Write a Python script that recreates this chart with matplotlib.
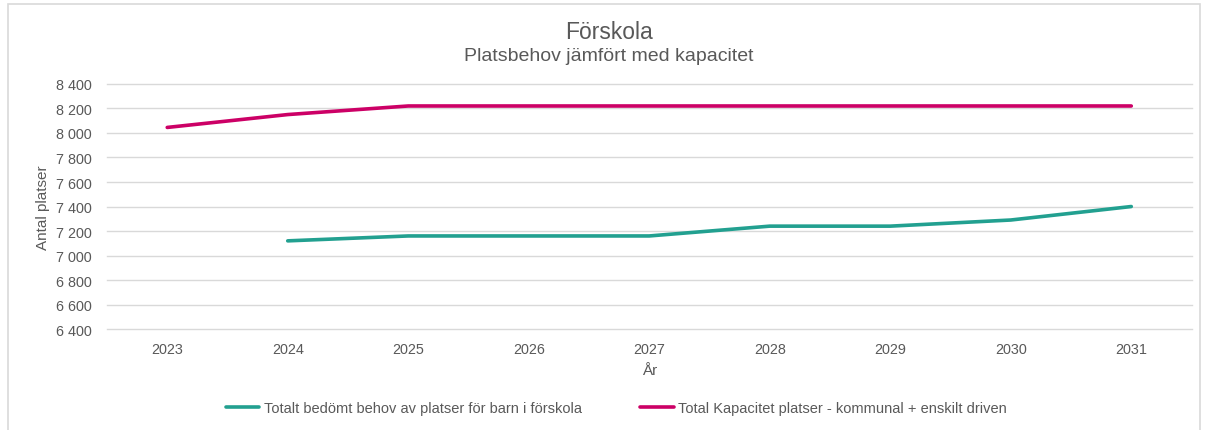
import matplotlib.pyplot as plt
from matplotlib.patches import Rectangle
from matplotlib.ticker import FuncFormatter

plt.rcParams['font.family'] = ['Liberation Sans', 'DejaVu Sans']

# Data
years = [2023, 2024, 2025, 2026, 2027, 2028, 2029, 2030, 2031]
behov_years = [2024, 2025, 2026, 2027, 2028, 2029, 2030, 2031]
behov = [7120, 7160, 7160, 7160, 7240, 7240, 7290, 7400]
kapacitet = [8045, 8150, 8220, 8220, 8220, 8220, 8220, 8220, 8220]

lbl_behov = 'Totalt bedömt behov av platser för barn i förskola'
lbl_kap = 'Total Kapacitet platser - kommunal + enskilt driven'

gra = '#595959'
cor_behov = '#22A090'
cor_kap = '#CC0066'

fig = plt.figure(figsize=(12.06, 4.31), dpi=100)
ax = fig.add_axes([0.0887, 0.234, 0.8993, 0.569])

# Ram runt diagrammet
fig.patches.append(Rectangle((0.007, -0.01), 0.988, 0.998, transform=fig.transFigure,
                             fill=False, edgecolor='#D9D9D9', linewidth=1.2))

ax.plot(behov_years, behov, color=cor_behov, linewidth=2.6, label=lbl_behov, solid_capstyle='round')
ax.plot(years, kapacitet, color=cor_kap, linewidth=2.6, label=lbl_kap, solid_capstyle='round')

ax.set_xlim(2022.5, 2031.5)
ax.set_ylim(6400, 8400)
ax.set_xticks(years)
ax.set_yticks(range(6400, 8401, 200))
ax.yaxis.set_major_formatter(FuncFormatter(lambda v, p: f'{int(v):,}'.replace(',', ' ')))
ax.grid(True, axis='y', color='#D9D9D9', linewidth=1)
for gl in ax.get_ygridlines():
    gl.set_clip_on(False)
ax.set_axisbelow(True)
for s in ax.spines.values():
    s.set_visible(False)
ax.tick_params(axis='both', length=0, labelsize=10.4, labelcolor=gra)
ax.tick_params(axis='x', pad=9)
ax.tick_params(axis='y', pad=11)

ax.set_ylabel('Antal platser', fontsize=11, color=gra, labelpad=4)
ax.set_xlabel('År', fontsize=11, color=gra, labelpad=5)

fig.text(0.505, 0.925, 'Förskola', ha='center', va='center', fontsize=16.5, color=gra)
fig.text(0.505, 0.87, 'Platsbehov jämfört med kapacitet', ha='center', va='center', fontsize=14, color=gra)

fig.legend(loc='center', bbox_to_anchor=(0.511, 0.05), ncol=2, frameon=False,
           fontsize=10.5, labelcolor=gra, handlelength=2.3, handletextpad=0.3, columnspacing=4.0)

fig.savefig('out.png', dpi=100)
